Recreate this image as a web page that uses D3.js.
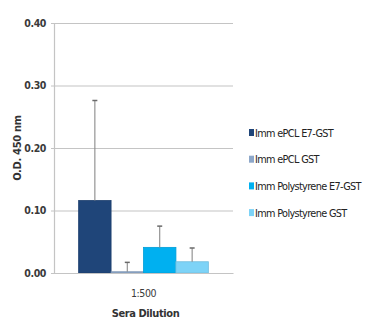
<!DOCTYPE html>
<html>
<head>
<meta charset="utf-8">
<script src="https://cdn.jsdelivr.net/npm/d3@7/dist/d3.min.js"></script>
<style>
  html, body { margin: 0; padding: 0; background: #fff; }
  svg { display: block; }
  text { font-family: "DejaVu Sans Condensed", "DejaVu Sans", sans-serif; font-stretch: condensed; fill: #333; }
</style>
</head>
<body>
<svg id="chart" width="365" height="324"></svg>
<script>
// ELISA readings at 1:500 sera dilution
const categories = ["1:500"];
const seriesNames = ["Imm ePCL E7-GST", "Imm ePCL GST", "Imm Polystyrene E7-GST", "Imm Polystyrene GST"];
const seriesMeans = [0.116, 0.002, 0.041, 0.018];
const seriesErrors = [0.160, 0.015, 0.034, 0.022];
const seriesColors = ["#1f4579", "#8da7c9", "#00b0f0", "#7dd3f7"];
const yTicks = [0.00, 0.10, 0.20, 0.30, 0.40];

const svg = d3.select("#chart");
const margin = { left: 54, right: 132, top: 23, bottom: 51 };
const W = 365, H = 324;
const condensed = '"DejaVu Sans Condensed", "DejaVu Sans", sans-serif';

const y = d3.scaleLinear().domain([0, 0.40]).range([H - margin.bottom, margin.top]);
const x0 = d3.scaleBand().domain(categories).range([margin.left, W - margin.right]).paddingInner(0).paddingOuter(0.19);
const x1 = d3.scaleBand().domain(seriesNames).range([0, x0.bandwidth()]).padding(0);

// gridlines
svg.append("g")
  .attr("transform", `translate(${margin.left},0)`)
  .call(d3.axisLeft(y).tickValues(yTicks).tickSize(-(W - margin.right - margin.left)).tickFormat(""))
  .call(g => g.select(".domain").remove())
  .call(g => g.selectAll(".tick line").attr("stroke", "#c4c4c4").attr("stroke-width", 1.2));

// y axis with labels
svg.append("g")
  .attr("transform", `translate(${margin.left},0)`)
  .call(d3.axisLeft(y).tickValues(yTicks).tickSize(3).tickPadding(5).tickFormat(d3.format(".2f")))
  .call(g => g.select(".domain").attr("stroke", "#c4c4c4").attr("stroke-width", 1.2))
  .call(g => g.selectAll(".tick line").attr("stroke", "#c4c4c4"))
  .call(g => g.selectAll(".tick text").attr("font-size", 10.5).attr("font-weight", "bold").style("fill", "#3a3a3a")
    .style("font-family", condensed).style("letter-spacing", "-0.4px"));

// bars
const grp = svg.append("g").selectAll("g").data(categories).join("g")
  .attr("transform", d => `translate(${x0(d)},0)`);

const rows = seriesNames.map((name, i) => ({ name, mean: seriesMeans[i], err: seriesErrors[i], color: seriesColors[i] }));

grp.selectAll("rect").data(rows).join("rect")
  .attr("x", d => x1(d.name))
  .attr("width", x1.bandwidth())
  .attr("y", d => y(d.mean))
  .attr("height", d => y(0) - y(d.mean))
  .attr("fill", d => d.color)
  .attr("stroke", d => d3.color(d.color).darker(0.3))
  .attr("stroke-width", 0.8);

// upper error bars
const eb = grp.selectAll("g.err").data(rows).join("g").attr("class", "err");
eb.append("line")
  .attr("x1", d => x1(d.name) + x1.bandwidth() / 2)
  .attr("x2", d => x1(d.name) + x1.bandwidth() / 2)
  .attr("y1", d => y(d.mean))
  .attr("y2", d => y(d.mean + d.err))
  .attr("stroke", "#8a8a8a").attr("stroke-width", 1.1);
eb.append("line")
  .attr("x1", d => x1(d.name) + x1.bandwidth() / 2 - 2.5)
  .attr("x2", d => x1(d.name) + x1.bandwidth() / 2 + 2.5)
  .attr("y1", d => y(d.mean + d.err))
  .attr("y2", d => y(d.mean + d.err))
  .attr("stroke", "#6a6a6a").attr("stroke-width", 1.5);

// x axis
svg.append("g")
  .attr("transform", `translate(0,${y(0)})`)
  .call(d3.axisBottom(x0).tickSize(0).tickPadding(17))
  .call(g => g.select(".domain").attr("stroke", "#c4c4c4").attr("stroke-width", 1.2))
  .call(g => g.selectAll(".tick text").attr("font-size", 10.5).style("fill", "#3a3a3a")
    .style("font-family", condensed).style("letter-spacing", "-0.4px"));

// axis titles
svg.append("text")
  .attr("x", x0(categories[0]) + x0.bandwidth() / 2 + 2)
  .attr("y", 317)
  .attr("text-anchor", "middle")
  .attr("font-size", 11).attr("font-weight", "bold")
  .style("letter-spacing", "-0.4px")
  .text("Sera Dilution");

svg.append("text")
  .attr("transform", `translate(21,148) rotate(-90)`)
  .attr("text-anchor", "middle")
  .attr("font-size", 11).attr("font-weight", "bold")
  .style("font-family", '"DejaVu Sans", sans-serif').style("letter-spacing", "-0.3px")
  .text("O.D. 450 nm");

// legend
const lg = svg.append("g").attr("transform", "translate(249,133)");
const items = lg.selectAll("g").data(rows).join("g")
  .attr("transform", (d, i) => `translate(0,${i * 26.7})`);
items.append("rect").attr("x", 0).attr("y", -4).attr("width", 5).attr("height", 7).attr("fill", d => d.color);
items.append("text").attr("x", 6).attr("y", 0).attr("dy", "0.35em")
  .attr("font-size", 10.8).style("fill", "#222").style("letter-spacing", "-0.65px")
  .text(d => d.name);
</script>
</body>
</html>
